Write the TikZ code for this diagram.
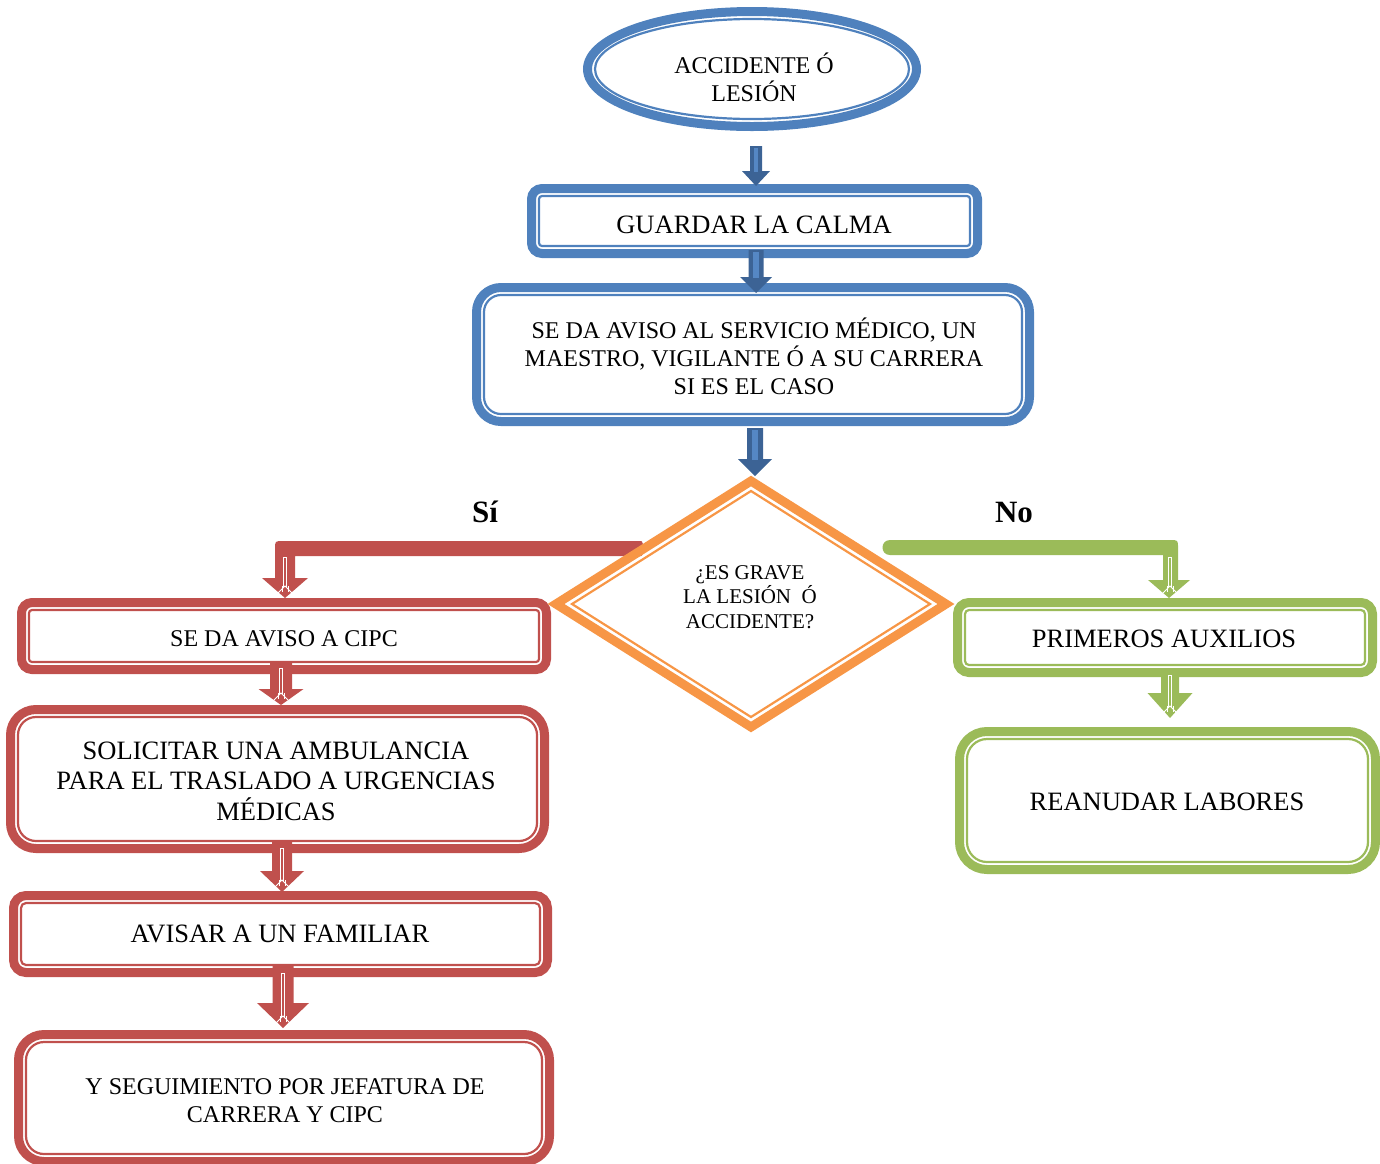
\documentclass[tikz,border=0pt]{standalone}
\usepackage{fontspec}
\setmainfont{Liberation Serif}
\usetikzlibrary{shapes.geometric}
\definecolor{blueC}{HTML}{4F81BD}
\definecolor{blueD}{HTML}{3C6395}
\definecolor{blueL}{HTML}{5587C4}
\definecolor{redC}{HTML}{C0504D}
\definecolor{greenC}{HTML}{9BBB59}
\definecolor{orangeC}{HTML}{F79646}
\newcommand\dblbox[7]{%
 \pgfmathsetmacro\dbRa{#7-4.5}\pgfmathsetmacro\dbRb{#7-12}%
 \pgfmathsetmacro\dbW{#5-#3-9}\pgfmathsetmacro\dbH{#6-#4-9}%
 \pgfmathsetmacro\dbX{(#3+#5)/2}\pgfmathsetmacro\dbY{(#4+#6)/2}%
 \node[draw=#2, line width=9pt, rounded corners=\dbRa pt, minimum width=\dbW pt, minimum height=\dbH pt, inner sep=0pt, outer sep=4.5pt] (#1) at (\dbX,\dbY) {};
 \draw[#2, line width=2.2pt, rounded corners=\dbRb pt] ([shift={(12,12)}]#1.north west) rectangle ([shift={(-12,-12)}]#1.south east);
}
% block arrow: colour, cx, top, head, tip, shaft half, head half
\newcommand\blkarrow[7]{%
 \fill[#1] (#2-#6,#3) -- (#2+#6,#3) -- (#2+#6,#4) -- (#2+#7,#4) -- (#2,#5) -- (#2-#7,#4) -- (#2-#6,#4) -- cycle;}
% white decoration: cx, top, tip
\newcommand\whdeco[3]{%
 \draw[white, line width=0.7pt] (#1-1.8,#2) rectangle (#1+1.8,#3-12);
 \draw[white, line width=0.9pt] (#1-7,#3-5) -- (#1,#3-12) -- (#1+7,#3-5);
 \draw[white, line width=0.9pt] (#1-3,#3-12) -- (#1-3,#3-6) (#1+3,#3-12) -- (#1+3,#3-6);}
\tikzset{
 txt/.style={align=center, inner sep=0pt, text=black},
 big/.style={font=\fontsize{26.5}{30.5}\selectfont},
 mid/.style={font=\fontsize{24}{28}\selectfont},
 sml/.style={font=\fontsize{21}{24.5}\selectfont},
 lbl/.style={font=\fontsize{31}{34}\selectfont\bfseries, inner sep=0pt}
}
\begin{document}
\begin{tikzpicture}[x=1pt,y=-1pt]
\useasboundingbox (0,0) rectangle (1380,1163);
% start ellipse
\node[ellipse, draw=blueC, line width=9pt, minimum width=329pt, minimum height=115pt, inner sep=0pt] (acc) at (752,69) {};
\draw[blueC, line width=2.2pt] (acc.center) ellipse [x radius=157pt, y radius=50pt];
% boxes
\dblbox{guardar}{blueC}{527}{184}{982}{258}{15}
\dblbox{aviso}{blueC}{472}{283}{1034}{426}{29}
\dblbox{cipc}{redC}{17}{598}{551}{674}{15}
\dblbox{solicitar}{redC}{6}{705}{549}{853}{30}
\dblbox{avisar}{redC}{9}{891}{552}{977}{17}
\dblbox{seguim}{redC}{14}{1030}{554}{1166}{30}
\dblbox{primeros}{greenC}{953}{598}{1377}{677}{16}
\dblbox{reanudar}{greenC}{955}{727}{1380}{874}{32}
% elbow connectors
\fill[redC] (641,541) -- (283,541) .. controls (275,541) .. (275,549) -- (275,578) -- (262,578) -- (285,598) -- (308,578) -- (295,578) -- (295,556) -- (641,556) .. controls (644,556) and (644,541) .. (641,541) -- cycle;
\whdeco{285}{557}{598}
\fill[greenC] (890,540) -- (1170,540) .. controls (1178,540) .. (1178,548) -- (1178,580) -- (1190,580) -- (1169,598) -- (1148,580) -- (1163,580) -- (1163,555) -- (890,555) .. controls (880,555) and (880,540) .. (890,540) -- cycle;
\whdeco{1170}{557}{598}
% decision diamond
\coordinate (q) at (751,604);
\draw[orangeC, line width=9pt] ([shift={(-195,0)}]q) -- ([shift={(0,-123)}]q) -- ([shift={(195,0)}]q) -- ([shift={(0,123)}]q) -- cycle;
\draw[orangeC, line width=2.2pt] ([shift={(-179,0)}]q) -- ([shift={(0,-113)}]q) -- ([shift={(179,0)}]q) -- ([shift={(0,113)}]q) -- cycle;
% blue block arrows
\blkarrow{blueD}{756}{146}{171}{186}{6}{14}
\fill[blueL] (754,148) rectangle (758,172);
\blkarrow{blueD}{756}{250}{277}{293}{7.5}{16}
\fill[blueL] (753,252) rectangle (759,278);
\blkarrow{blueD}{755}{428}{459}{476}{8}{17}
\fill[blueL] (752,430) rectangle (758,460);
% red block arrows
\blkarrow{redC}{281}{661}{689}{705}{11}{22.5}
\whdeco{281}{668}{705}
\blkarrow{redC}{282}{840}{871}{892}{10}{22}
\whdeco{282}{848}{892}
\blkarrow{redC}{283}{965}{1003}{1028}{10.5}{26}
\whdeco{283}{973}{1028}
% green block arrow
\blkarrow{greenC}{1170}{668}{693}{718}{9}{22.5}
\whdeco{1170}{675}{718}
% texts
\node[txt, mid] (acc-t) at (754,77) {ACCIDENTE Ó\\LESIÓN};
\node[txt, big] (guardar-t) at (754,225) {GUARDAR LA CALMA};
\node[txt, mid] (aviso-t) at (754,356) {SE DA AVISO AL SERVICIO MÉDICO, UN\\MAESTRO, VIGILANTE Ó A SU CARRERA\\SI ES EL CASO};
\node[txt, sml] (q-t) at (750,597) {¿ES GRAVE\\LA LESIÓN\ \ Ó\\ACCIDENTE?};
\node[txt, mid] (cipc-t) at (284,639) {SE DA AVISO A CIPC};
\node[txt, big] (solicitar-t) at (276,781) {SOLICITAR UNA AMBULANCIA\\PARA EL TRASLADO A URGENCIAS\\MÉDICAS};
\node[txt, big] (avisar-t) at (280,934) {AVISAR A UN FAMILIAR};
\node[txt, mid] (seguim-t) at (285,1101) {Y SEGUIMIENTO POR JEFATURA DE\\CARRERA Y CIPC};
\node[txt, big] (primeros-t) at (1164,639) {PRIMEROS AUXILIOS};
\node[txt, big] (reanudar-t) at (1167,802) {REANUDAR LABORES};
\node[lbl] (si) at (485,512) {Sí};
\node[lbl] (no) at (1014,512) {No};
\end{tikzpicture}
\end{document}
